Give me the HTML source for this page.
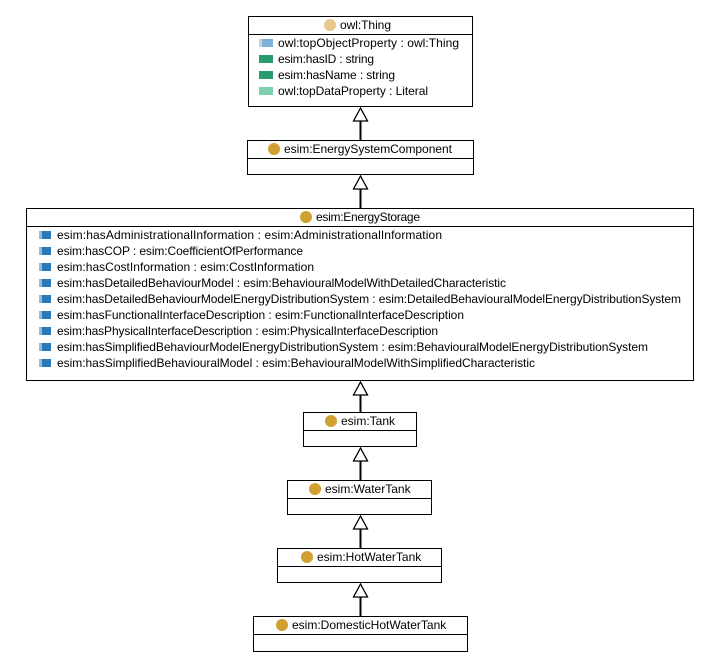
<!DOCTYPE html>
<html><head><meta charset="utf-8"><style>body{margin:0;background:#fff}svg{display:block}text{font-family:"Liberation Sans",sans-serif;font-size:12px;fill:#000}</style></head><body>
<svg width="713" height="663" xmlns="http://www.w3.org/2000/svg">
<defs>
<g id="op"><rect x="0" y="-4" width="12" height="8" fill="#2a7ab8"/><rect x="0" y="-4" width="3" height="8" fill="#8fbfe0"/></g>
</defs>
<g fill="none" stroke="#000" stroke-width="1">
<rect x="248.5" y="16.5" width="224" height="90"/><line x1="248" y1="34.5" x2="472" y2="34.5"/>
<rect x="247.5" y="140.5" width="226" height="34"/><line x1="247" y1="158.5" x2="473" y2="158.5"/>
<rect x="26.5" y="208.5" width="667" height="172"/><line x1="26" y1="226.5" x2="693" y2="226.5"/>
<rect x="303.5" y="412.5" width="113" height="34"/><line x1="303" y1="430.5" x2="416" y2="430.5"/>
<rect x="287.5" y="480.5" width="144" height="34"/><line x1="287" y1="498.5" x2="431" y2="498.5"/>
<rect x="277.5" y="548.5" width="164" height="34"/><line x1="277" y1="566.5" x2="441" y2="566.5"/>
<rect x="253.5" y="616.5" width="214" height="35"/><line x1="253" y1="634.5" x2="467" y2="634.5"/>
</g>
<g stroke="#000" fill="#fff" stroke-width="1.3">
<line x1="360.5" y1="121" x2="360.5" y2="140" stroke-width="2"/><polygon points="360.5,108 353.5,121 367.5,121"/>
<line x1="360.5" y1="189" x2="360.5" y2="208" stroke-width="2"/><polygon points="360.5,176 353.5,189 367.5,189"/>
<line x1="360.5" y1="395" x2="360.5" y2="412" stroke-width="2"/><polygon points="360.5,382 353.5,395 367.5,395"/>
<line x1="360.5" y1="461" x2="360.5" y2="480" stroke-width="2"/><polygon points="360.5,448 353.5,461 367.5,461"/>
<line x1="360.5" y1="529" x2="360.5" y2="548" stroke-width="2"/><polygon points="360.5,516 353.5,529 367.5,529"/>
<line x1="360.5" y1="597" x2="360.5" y2="616" stroke-width="2"/><polygon points="360.5,584 353.5,597 367.5,597"/>
</g>
<circle cx="330" cy="25" r="6" fill="#e6c888"/><text x="340" y="29" textLength="51">owl:Thing</text>
<rect x="259" y="39" width="14" height="8" fill="#7fb0d8"/><rect x="259" y="39" width="3" height="8" fill="#b8d4ea"/><text x="278" y="47" textLength="181">owl:topObjectProperty : owl:Thing</text>
<rect x="259" y="55" width="14" height="8" fill="#2a9a70"/><text x="278" y="63" textLength="96">esim:hasID : string</text>
<rect x="259" y="71" width="14" height="8" fill="#2a9a70"/><text x="278" y="79" textLength="117">esim:hasName : string</text>
<rect x="259" y="87" width="14" height="8" fill="#7fd0b0"/><text x="278" y="95" textLength="150">owl:topDataProperty : Literal</text>
<circle cx="274" cy="149" r="6" fill="#d0a030"/><text x="284" y="153" textLength="168">esim:EnergySystemComponent</text>
<circle cx="306" cy="217" r="6" fill="#d0a030"/><text x="316" y="221" textLength="104">esim:EnergyStorage</text>
<g>
<use href="#op" x="39" y="235"/><text x="57" y="239" textLength="385">esim:hasAdministrationalInformation : esim:AdministrationalInformation</text>
<use href="#op" x="39" y="251"/><text x="57" y="255" textLength="246">esim:hasCOP : esim:CoefficientOfPerformance</text>
<use href="#op" x="39" y="267"/><text x="57" y="271" textLength="257">esim:hasCostInformation : esim:CostInformation</text>
<use href="#op" x="39" y="283"/><text x="57" y="287" textLength="449">esim:hasDetailedBehaviourModel : esim:BehaviouralModelWithDetailedCharacteristic</text>
<use href="#op" x="39" y="299"/><text x="57" y="303" textLength="624">esim:hasDetailedBehaviourModelEnergyDistributionSystem : esim:DetailedBehaviouralModelEnergyDistributionSystem</text>
<use href="#op" x="39" y="315"/><text x="57" y="319" textLength="407">esim:hasFunctionalInterfaceDescription : esim:FunctionalInterfaceDescription</text>
<use href="#op" x="39" y="331"/><text x="57" y="335" textLength="381">esim:hasPhysicalInterfaceDescription : esim:PhysicalInterfaceDescription</text>
<use href="#op" x="39" y="347"/><text x="57" y="351" textLength="591">esim:hasSimplifiedBehaviourModelEnergyDistributionSystem : esim:BehaviouralModelEnergyDistributionSystem</text>
<use href="#op" x="39" y="363"/><text x="57" y="367" textLength="478">esim:hasSimplifiedBehaviouralModel : esim:BehaviouralModelWithSimplifiedCharacteristic</text>
</g>
<circle cx="331" cy="421" r="6" fill="#d0a030"/><text x="341" y="425">esim:Tank</text>
<circle cx="315" cy="489" r="6" fill="#d0a030"/><text x="325" y="493">esim:WaterTank</text>
<circle cx="307" cy="557" r="6" fill="#d0a030"/><text x="317" y="561">esim:HotWaterTank</text>
<circle cx="282" cy="625" r="6" fill="#d0a030"/><text x="292" y="629">esim:DomesticHotWaterTank</text>
</svg>
</body></html>
